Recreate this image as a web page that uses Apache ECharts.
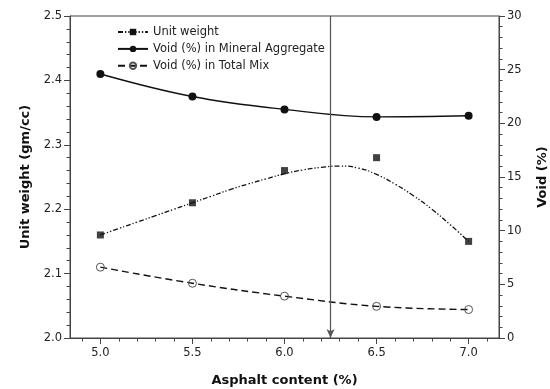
<!DOCTYPE html>
<html>
<head>
<meta charset="utf-8">
<script src="https://cdn.jsdelivr.net/npm/echarts@6/dist/echarts.min.js"></script>
<style>
html,body{margin:0;padding:0;background:#fff;}
#chart{width:550px;height:389px;}
</style>
</head>
<body>
<div id="chart"></div>
<script>
// ---- data ----
const asphalt = [5.0, 5.5, 6.0, 6.5, 7.0];
const unitWeight = [2.16, 2.21, 2.26, 2.28, 2.15];
const voidMA = [24.6, 22.5, 21.3, 20.6, 20.7];
const voidTM = [6.6, 5.1, 3.9, 2.95, 2.65];
// fitted curve for unit weight
const fitX = [5.0, 5.1, 5.2, 5.3, 5.4, 5.5, 5.6, 5.7, 5.8, 5.9, 6.0, 6.1, 6.2, 6.3, 6.4, 6.5, 6.6, 6.7, 6.8, 6.9, 7.0];
const fitY = [2.160, 2.170, 2.180, 2.190, 2.200, 2.210, 2.220, 2.230, 2.239, 2.247, 2.255, 2.261, 2.265, 2.267, 2.264, 2.254, 2.239, 2.221, 2.200, 2.176, 2.150];
const optimumAC = 6.25;
const xMajorTicks = [5.0, 5.5, 6.0, 6.5, 7.0];
const xMinorTicks = [4.9, 5.1, 5.2, 5.3, 5.4, 5.6, 5.7, 5.8, 5.9, 6.1, 6.2, 6.3, 6.4, 6.6, 6.7, 6.8, 6.9, 7.1];
const seriesNames = ['Unit weight', 'Void (%) in Mineral Aggregate', 'Void (%) in Total Mix'];

const font = 'DejaVu Sans';
const axisColor = '#444';
const txt = '#222';

const chart = echarts.init(document.getElementById('chart'), null, {renderer: 'canvas'});
const zip = (a, b) => a.map((v, i) => [v, b[i]]);

chart.setOption({
  animation: false,
  backgroundColor: '#fff',
  textStyle: {fontFamily: font},
  grid: {left: 70, right: 51, top: 16, bottom: 51, outerBoundsMode: 'none', containLabel: false,
         show: true, borderColor: axisColor, borderWidth: 1, backgroundColor: 'transparent'},
  legend: {
    orient: 'vertical', left: 117, top: 26, padding: 0,
    itemWidth: 30, itemHeight: 8, itemGap: 4.9,
    data: seriesNames,
    textStyle: {fontFamily: font, fontSize: 11.5, color: '#222'}
  },
  xAxis: [{
    type: 'value', min: 4.835, max: 7.165,
    name: 'Asphalt content (%)', nameLocation: 'middle', nameGap: 36,
    nameTextStyle: {fontFamily: font, fontSize: 13, fontWeight: 'bold', color: '#111'},
    axisLine: {show: true, lineStyle: {color: axisColor, width: 1}},
    axisTick: {show: true, length: 6, lineStyle: {color: axisColor}, customValues: xMajorTicks},
    axisLabel: {customValues: xMajorTicks, formatter: v => v.toFixed(1), fontFamily: font, fontSize: 11.5, color: txt, margin: 9},
    splitLine: {show: false}
  }, {
    type: 'value', min: 4.835, max: 7.165, position: 'bottom',
    axisLine: {show: false},
    axisTick: {show: true, length: 3.5, lineStyle: {color: axisColor}, customValues: xMinorTicks},
    axisLabel: {show: false},
    splitLine: {show: false}
  }],
  yAxis: [{
    type: 'value', min: 2.0, max: 2.5, interval: 0.1, position: 'left',
    name: 'Unit weight (gm/cc)', nameLocation: 'middle', nameGap: 38, nameRotate: 90,
    nameTextStyle: {fontFamily: font, fontSize: 13, fontWeight: 'bold', color: '#111'},
    axisLine: {show: true, lineStyle: {color: axisColor, width: 1}},
    axisTick: {show: true, length: 6, lineStyle: {color: axisColor}},
    minorTick: {show: true, splitNumber: 5, length: 3.5, lineStyle: {color: axisColor}},
    axisLabel: {formatter: v => v.toFixed(1), fontFamily: font, fontSize: 11.5, color: txt, margin: 8},
    splitLine: {show: false}
  }, {
    type: 'value', min: 0, max: 30, interval: 5, position: 'right',
    name: 'Void (%)', nameLocation: 'middle', nameGap: 37, nameRotate: 90,
    nameTextStyle: {fontFamily: font, fontSize: 13, fontWeight: 'bold', color: '#111'},
    axisLine: {show: true, lineStyle: {color: axisColor, width: 1}},
    axisTick: {show: true, length: 6, lineStyle: {color: axisColor}},
    minorTick: {show: true, splitNumber: 5, length: 3.5, lineStyle: {color: axisColor}},
    axisLabel: {fontFamily: font, fontSize: 11.5, color: txt, margin: 8},
    splitLine: {show: false}
  }],
  series: [{
    name: 'Unit weight', type: 'line', xAxisIndex: 0, yAxisIndex: 0,
    data: zip(fitX, fitY), smooth: true, showSymbol: false,
    symbol: 'rect', symbolSize: 7,
    itemStyle: {color: '#111'},
    lineStyle: {color: '#111', width: 1.3, type: [5, 2, 1.3, 2, 1.3, 2]},
    markLine: {
      silent: true, symbol: ['none', 'arrow'], symbolSize: [6, 9],
      label: {show: false},
      lineStyle: {color: '#555', width: 1.2, type: 'solid'},
      data: [[{coord: [optimumAC, 2.5]}, {coord: [optimumAC, 2.0]}]]
    },
    z: 3
  }, {
    name: 'Unit weight (measured)', type: 'scatter', xAxisIndex: 0, yAxisIndex: 0,
    data: zip(asphalt, unitWeight), symbol: 'rect', symbolSize: 7,
    itemStyle: {color: '#111'}, z: 4
  }, {
    name: 'Void (%) in Mineral Aggregate', type: 'line', xAxisIndex: 0, yAxisIndex: 1,
    data: zip(asphalt, voidMA), smooth: 0.4, symbol: 'circle', symbolSize: 8, showSymbol: true,
    itemStyle: {color: '#111'},
    lineStyle: {color: '#111', width: 1.4, type: 'solid'}, z: 4
  }, {
    name: 'Void (%) in Total Mix', type: 'line', xAxisIndex: 0, yAxisIndex: 1,
    data: zip(asphalt, voidTM), smooth: 0.4, symbol: 'circle', symbolSize: 8, showSymbol: true,
    itemStyle: {color: 'rgba(255,255,255,0)', borderColor: '#555', borderWidth: 1},
    lineStyle: {color: '#111', width: 1.4, type: [7, 4]}, z: 4
  }]
});
</script>
</body>
</html>
